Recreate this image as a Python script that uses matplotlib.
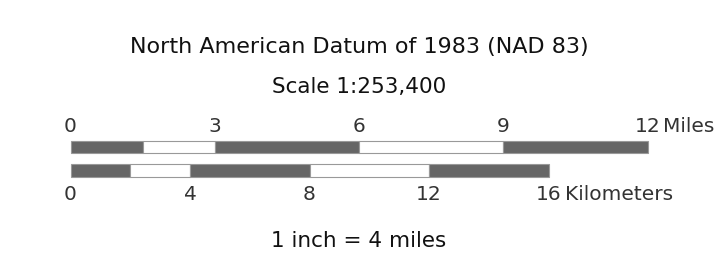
import matplotlib.pyplot as plt

title = "North American Datum of 1983 (NAD 83)"
scale_text = "Scale 1:253,400"
note = "1 inch = 4 miles"

# bar segments, alternating dark / white
mile_edges = [0, 1.5, 3, 6, 9, 12]
mile_ticks = [0, 3, 6, 9, 12]
km_edges = [0, 2, 4, 8, 12, 16]
km_ticks = [0, 4, 8, 12, 16]
km_per_mile = 1.609344

dark = '#666666'
light = 'white'
edge = '#999999'
txt = '#333333'

plt.rcParams['font.family'] = ['DejaVu Sans']

fig = plt.figure(figsize=(7.25, 2.76), dpi=100)
ax = fig.add_axes([0, 0, 1, 1])
px_per_mile = 577 / 12
ax.set_xlim(-70.5 / px_per_mile, (725 - 70.5) / px_per_mile)
ax.set_ylim(276, 0)
ax.axis('off')


def draw_bar(edges, y, h, factor):
    for i in range(len(edges) - 1):
        left = edges[i] / factor
        width = (edges[i + 1] - edges[i]) / factor
        color = dark if i % 2 == 0 else light
        ax.barh(y, width, left=left, height=h, color=color,
                edgecolor=edge, linewidth=0.8)


draw_bar(mile_edges, 147, 12.5, 1)
draw_bar(km_edges, 170.5, 12.5, km_per_mile)

for t in mile_ticks:
    ax.text(t, 127, str(t), ha='center', va='center', fontsize=14.5, color=txt)
ax.annotate('Miles', xy=(mile_ticks[-1], 127), xytext=(11.5, 0),
            textcoords='offset points', ha='left', va='center',
            fontsize=14.5, color=txt)

for t in km_ticks:
    ax.text(t / km_per_mile, 195, str(t), ha='center', va='center',
            fontsize=14.5, color=txt)
ax.annotate('Kilometers', xy=(km_ticks[-1] / km_per_mile, 195), xytext=(11.5, 0),
            textcoords='offset points', ha='left', va='center',
            fontsize=14.5, color=txt)

mid = mile_edges[-1] / 2
ax.text(mid, 47, title, ha='center', va='center', fontsize=16, color='#111111')
ax.text(mid, 87, scale_text, ha='center', va='center', fontsize=15.5, color='#111111')
ax.text(mid, 241, note, ha='center', va='center', fontsize=15.5, color='#111111')

fig.savefig('out.png', dpi=100)
